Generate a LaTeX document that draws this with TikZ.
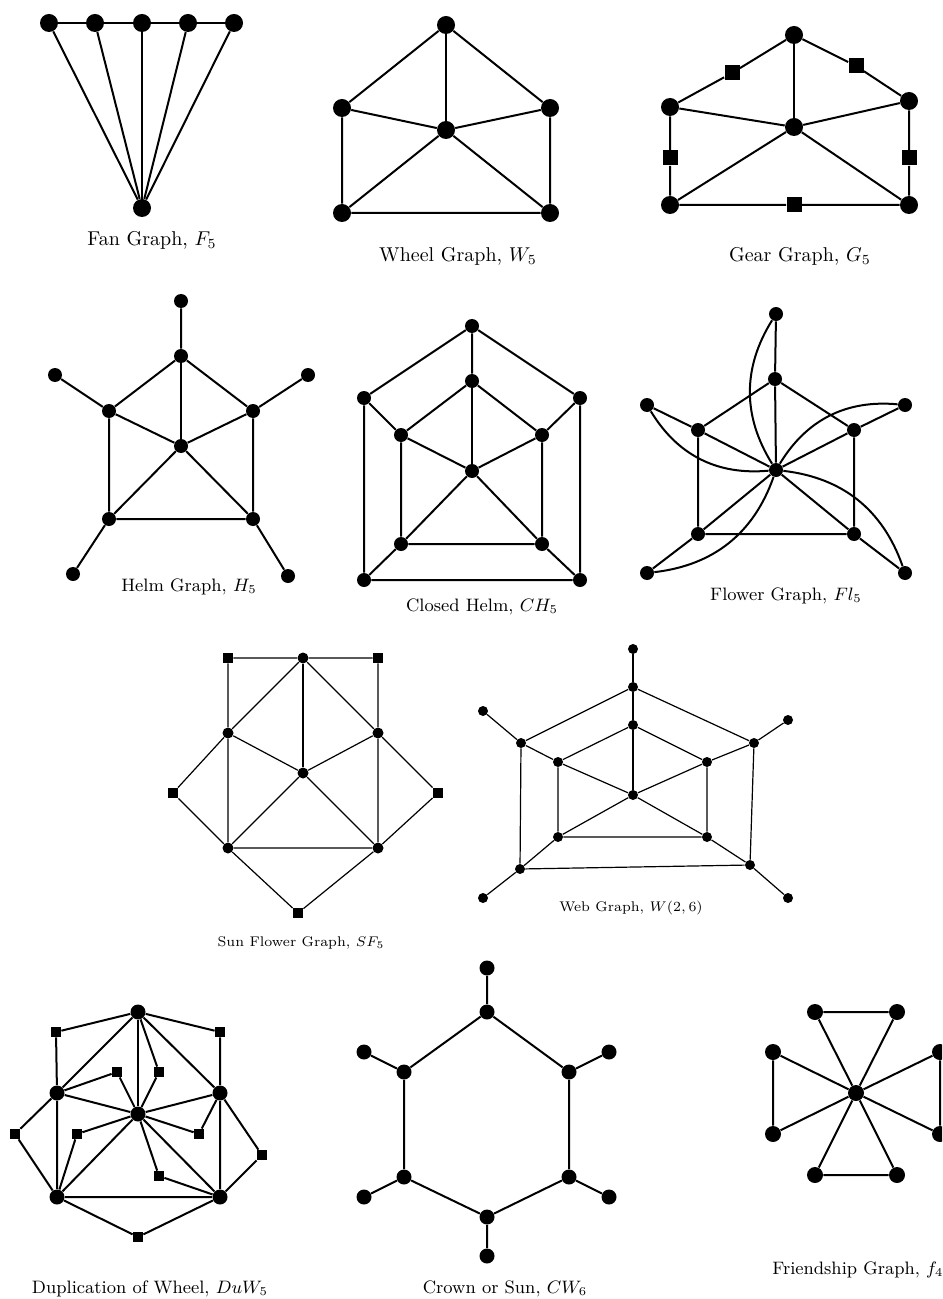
\documentclass[tikz,border=0pt]{standalone}
\usetikzlibrary{calc}
\tikzset{
  vx/.style={circle, fill=black, inner sep=0pt, minimum size=#1},
  vx/.default=8pt,
  sqv/.style={rectangle, fill=black, inner sep=0pt, minimum size=#1},
  sqv/.default=7pt,
  edge/.style={line width=1pt, black},
  thinedge/.style={line width=0.6pt, black},
  cap10/.style={font=\fontsize{10}{12}\selectfont},
  cap9/.style={font=\fontsize{9}{11}\selectfont},
  cap7/.style={font=\fontsize{7}{8.5}\selectfont},
}
\begin{document}
\begin{tikzpicture}[x=0.5pt, y=-0.5pt]
\useasboundingbox (0,0) rectangle (942,1299);
\clip (0,0) rectangle (942,1299);

% ---------- Fan graph F5 ----------
\foreach \i/\x in {1/49,2/95,3/142,4/188,5/234}
  \node[vx=9pt] (fa\i) at (\x,23) {};
\node[vx=9pt] (fa0) at (142,208) {};
\draw[edge] (fa1)--(fa2)--(fa3)--(fa4)--(fa5);
\foreach \i in {1,...,5} \draw[edge] (fa0)--(fa\i);
\node[cap10] (faL) at (152,240) {Fan Graph, $F_5$};

% ---------- Wheel graph W5 ----------
\node[vx=9pt] (wt) at (446,25) {};
\node[vx=9pt] (wl) at (342,108) {};
\node[vx=9pt] (wr) at (550,108) {};
\node[vx=9pt] (w0) at (446,130) {};
\node[vx=9pt] (wbl) at (342,213) {};
\node[vx=9pt] (wbr) at (550,213) {};
\draw[edge] (wt)--(wl)--(wbl)--(wbr)--(wr)--(wt);
\foreach \n in {wt,wl,wr,wbl,wbr} \draw[edge] (w0)--(\n);
\node[cap10] (wL) at (458,256) {Wheel Graph, $W_5$};

% ---------- Gear graph G5 ----------
\node[vx=9pt] (gt) at (794,35) {};
\node[vx=9pt] (gl) at (670,107) {};
\node[vx=9pt] (gr) at (909,101) {};
\node[vx=9pt] (g0) at (794,127) {};
\node[vx=9pt] (gbl) at (670,205) {};
\node[vx=9pt] (gbr) at (909,205) {};
\node[sqv=7.5pt] (ga) at (732,73) {};
\node[sqv=7.5pt] (gb) at (856,66) {};
\node[sqv=7.5pt] (gc) at (670,158) {};
\node[sqv=7.5pt] (gd) at (909,158) {};
\node[sqv=7.5pt] (ge) at (794,205) {};
\draw[edge] (gt)--(ga)--(gl)--(gc)--(gbl)--(ge)--(gbr)--(gd)--(gr)--(gb)--(gt);
\foreach \n in {gt,gl,gr,gbl,gbr} \draw[edge] (g0)--(\n);
\node[cap10] (gL) at (800,256) {Gear Graph, $G_5$};

% ---------- Helm graph H5 ----------
\node[vx=7pt] (ht) at (181,356) {};
\node[vx=7pt] (hl) at (109,411) {};
\node[vx=7pt] (hr) at (253,411) {};
\node[vx=7pt] (h0) at (181,446) {};
\node[vx=7pt] (hbl) at (109,519) {};
\node[vx=7pt] (hbr) at (253,519) {};
\node[vx=7pt] (hpt) at (181,301) {};
\node[vx=7pt] (hpl) at (55,375) {};
\node[vx=7pt] (hpr) at (308,375) {};
\node[vx=7pt] (hpbl) at (73,574) {};
\node[vx=7pt] (hpbr) at (288,576) {};
\draw[edge] (ht)--(hl)--(hbl)--(hbr)--(hr)--(ht);
\foreach \n in {ht,hl,hr,hbl,hbr} \draw[edge] (h0)--(\n);
\draw[edge] (ht)--(hpt) (hl)--(hpl) (hr)--(hpr) (hbl)--(hpbl) (hbr)--(hpbr);
\node[cap9] (hL) at (189,587) {Helm Graph, $H_5$};

% ---------- Closed helm CH5 ----------
\node[vx=7pt] (cot) at (472,326) {};
\node[vx=7pt] (col) at (364,398) {};
\node[vx=7pt] (cor) at (580,398) {};
\node[vx=7pt] (cobl) at (364,580) {};
\node[vx=7pt] (cobr) at (580,580) {};
\node[vx=7pt] (cit) at (472,381) {};
\node[vx=7pt] (cil) at (401,435) {};
\node[vx=7pt] (cir) at (542,435) {};
\node[vx=7pt] (c0) at (472,471) {};
\node[vx=7pt] (cibl) at (401,544) {};
\node[vx=7pt] (cibr) at (542,544) {};
\draw[edge] (cot)--(col)--(cobl)--(cobr)--(cor)--(cot);
\draw[edge] (cit)--(cil)--(cibl)--(cibr)--(cir)--(cit);
\draw[edge] (cot)--(cit) (col)--(cil) (cor)--(cir) (cobl)--(cibl) (cobr)--(cibr);
\foreach \n in {cit,cil,cir,cibl,cibr} \draw[edge] (c0)--(\n);
\node[cap9] (cL) at (482,607) {Closed Helm, $CH_5$};

% ---------- Flower graph Fl5 ----------
\node[vx=7pt] (flt) at (775,379) {};
\node[vx=7pt] (fll) at (698,430) {};
\node[vx=7pt] (flr) at (854,430) {};
\node[vx=7pt] (fl0) at (776,470) {};
\node[vx=7pt] (flbl) at (698,534) {};
\node[vx=7pt] (flbr) at (854,534) {};
\node[vx=7pt] (flpt) at (776,314) {};
\node[vx=7pt] (flpl) at (647,405) {};
\node[vx=7pt] (flpr) at (905,405) {};
\node[vx=7pt] (flpbl) at (647,573) {};
\node[vx=7pt] (flpbr) at (905,573) {};
\draw[edge] (flt)--(fll)--(flbl)--(flbr)--(flr)--(flt);
\foreach \n in {flt,fll,flr,flbl,flbr} \draw[edge] (fl0)--(\n);
\draw[edge] (flt)--(flpt) (fll)--(flpl) (flr)--(flpr) (flbl)--(flpbl) (flbr)--(flpbr);
\foreach \n in {flpt,flpl,flpr,flpbl,flpbr}
  \draw[edge] (\n) to[bend right=32] (fl0);
\node[cap9] (flL) at (786,596) {Flower Graph, $Fl_5$};

% ---------- Sun flower graph SF5 ----------
\node[vx=5.5pt] (st) at (303,658) {};
\node[vx=5.5pt] (sl) at (228,733) {};
\node[vx=5.5pt] (sr) at (378,733) {};
\node[vx=5.5pt] (s0) at (303,773) {};
\node[vx=5.5pt] (sbl) at (228,848) {};
\node[vx=5.5pt] (sbr) at (378,848) {};
\node[sqv=5pt] (sqa) at (228,658) {};
\node[sqv=5pt] (sqb) at (378,658) {};
\node[sqv=5pt] (sqc) at (173,793) {};
\node[sqv=5pt] (sqd) at (438,793) {};
\node[sqv=5pt] (sqe) at (298,913) {};
\draw[thinedge] (st)--(sl)--(sbl)--(sbr)--(sr)--(st);
\foreach \n in {st,sl,sr,sbl,sbr} \draw[thinedge] (s0)--(\n);
\draw[thinedge] (sl)--(sqa)--(st)--(sqb)--(sr)--(sqd)--(sbr)--(sqe)--(sbl)--(sqc)--(sl);
\node[cap7] (sL) at (301,943) {Sun Flower Graph, $SF_5$};

% ---------- Web graph W(2,6) ----------
\node[vx=5pt] (ept) at (633,649) {};
\node[vx=5pt] (eot) at (633,687) {};
\node[vx=5pt] (emt) at (633,725) {};
\node[vx=5pt] (e0) at (633,795) {};
\node[vx=5pt] (eol) at (521,743) {};
\node[vx=5pt] (eor) at (754,743) {};
\node[vx=5pt] (eml) at (558,762) {};
\node[vx=5pt] (emr) at (707,762) {};
\node[vx=5pt] (embl) at (558,837) {};
\node[vx=5pt] (embr) at (707,837) {};
\node[vx=5pt] (eobl) at (520,869) {};
\node[vx=5pt] (eobr) at (750,865) {};
\node[vx=5pt] (epl) at (483,711) {};
\node[vx=5pt] (epr) at (788,720) {};
\node[vx=5pt] (epbl) at (483,898) {};
\node[vx=5pt] (epbr) at (788,898) {};
\draw[thinedge] (eot)--(eol)--(eobl)--(eobr)--(eor)--(eot);
\draw[thinedge] (emt)--(eml)--(embl)--(embr)--(emr)--(emt);
\draw[thinedge] (ept)--(eot)--(emt)--(e0);
\draw[thinedge] (epl)--(eol)--(eml)--(e0);
\draw[thinedge] (epr)--(eor)--(emr)--(e0);
\draw[thinedge] (epbl)--(eobl)--(embl)--(e0);
\draw[thinedge] (epbr)--(eobr)--(embr)--(e0);
\node[cap7] (eL) at (631,908) {Web Graph, $W(2,6)$};

% ---------- Duplication of wheel DuW5 ----------
\node[vx=7.5pt] (dt) at (138,1012) {};
\node[vx=7.5pt] (dl) at (57,1093) {};
\node[vx=7.5pt] (dr) at (220,1093) {};
\node[vx=7.5pt] (d0) at (138,1114) {};
\node[vx=7.5pt] (dbl) at (57,1197) {};
\node[vx=7.5pt] (dbr) at (220,1197) {};
\node[sqv=5pt] (da) at (56,1032) {};
\node[sqv=5pt] (db) at (220,1032) {};
\node[sqv=5pt] (dc) at (117,1072) {};
\node[sqv=5pt] (dd) at (159,1072) {};
\node[sqv=5pt] (de) at (15,1134) {};
\node[sqv=5pt] (df) at (77,1134) {};
\node[sqv=5pt] (dg) at (199,1134) {};
\node[sqv=5pt] (dh) at (262,1155) {};
\node[sqv=5pt] (di) at (159,1176) {};
\node[sqv=5pt] (dj) at (138,1237) {};
\draw[edge] (dt)--(dl)--(dbl)--(dbr)--(dr)--(dt);
\foreach \n in {dt,dl,dr,dbl,dbr} \draw[edge] (d0)--(\n);
\draw[edge] (dt)--(da)--(dl) (dt)--(db)--(dr);
\draw[edge] (dl)--(dc)--(d0) (dt)--(dd)--(d0);
\draw[edge] (dl)--(de)--(dbl) (d0)--(df)--(dbl);
\draw[edge] (d0)--(dg)--(dr) (dr)--(dh)--(dbr);
\draw[edge] (d0)--(di)--(dbr) (dbl)--(dj)--(dbr);
\node[cap9] (dL) at (150,1289) {Duplication of Wheel, $DuW_5$};

% ---------- Crown CW6 ----------
\node[vx=7.5pt] (kt) at (487,1012) {};
\node[vx=7.5pt] (kul) at (404,1072) {};
\node[vx=7.5pt] (kur) at (569,1072) {};
\node[vx=7.5pt] (kll) at (404,1177) {};
\node[vx=7.5pt] (klr) at (569,1177) {};
\node[vx=7.5pt] (kb) at (487,1217) {};
\node[vx=7.5pt] (kpt) at (487,968) {};
\node[vx=7.5pt] (kpul) at (364,1052) {};
\node[vx=7.5pt] (kpur) at (609,1052) {};
\node[vx=7.5pt] (kpll) at (364,1197) {};
\node[vx=7.5pt] (kplr) at (609,1197) {};
\node[vx=7.5pt] (kpb) at (487,1256) {};
\draw[edge] (kt)--(kul)--(kll)--(kb)--(klr)--(kur)--(kt);
\draw[edge] (kt)--(kpt) (kul)--(kpul) (kur)--(kpur) (kll)--(kpll) (klr)--(kplr) (kb)--(kpb);
\node[cap9] (kL) at (505,1289) {Crown or Sun, $CW_6$};

% ---------- Friendship graph f4 ----------
\node[vx=8pt] (r0) at (856,1093) {};
\node[vx=8pt] (rtl) at (815,1012) {};
\node[vx=8pt] (rtr) at (897,1012) {};
\node[vx=8pt] (rlt) at (773,1052) {};
\node[vx=8pt] (rlb) at (773,1134) {};
\node[vx=8pt] (rrt) at (940,1052) {};
\node[vx=8pt] (rrb) at (940,1134) {};
\node[vx=8pt] (rbl) at (815,1175) {};
\node[vx=8pt] (rbr) at (897,1175) {};
\draw[edge] (r0)--(rtl)--(rtr)--(r0);
\draw[edge] (r0)--(rlt)--(rlb)--(r0);
\draw[edge] (r0)--(rrt)--(rrb)--(r0);
\draw[edge] (r0)--(rbl)--(rbr)--(r0);
\node[cap9] (rL) at (858,1270) {Friendship Graph, $f_4$};
\end{tikzpicture}
\end{document}
